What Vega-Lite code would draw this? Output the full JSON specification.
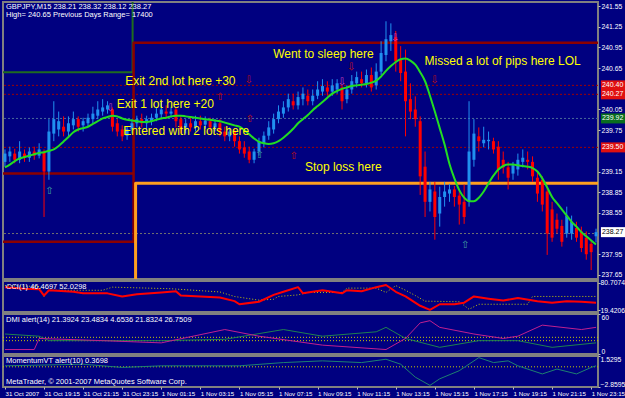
{
"$schema":"https://vega.github.io/schema/vega-lite/v6.json",
"background":"#000080",
"padding":{"left":0,"top":0,"right":0,"bottom":0},
"spacing":2,
"bounds":"flush",
"config":{
 "view":{"stroke":"#808080","strokeWidth":2},
 "axis":{"labelFont":"Liberation Sans","labelFontSize":6.8,"labelColor":"#FFFFFF","tickColor":"#C0C0C0","tickSize":2,"domain":false,"grid":false,"title":null,"labelPadding":1,"labelOverlap":false,"labelBound":false},
 "text":{"font":"Liberation Sans","fontSize":7.5,"color":"#FFFFFF","align":"left","baseline":"top"},
 "line":{"clip":true,"strokeJoin":"round"}
},
"datasets":{
 "one":[{}],
 "candles":[
{"i":0,"o":239.29,"h":239.47,"l":239.22,"c":239.41,"ma":239.21},
{"i":1,"o":239.37,"h":239.51,"l":239.29,"c":239.44,"ma":239.25},
{"i":2,"o":239.41,"h":239.48,"l":239.27,"c":239.32,"ma":239.30},
{"i":3,"o":239.32,"h":239.59,"l":239.27,"c":239.44,"ma":239.34},
{"i":4,"o":239.41,"h":239.47,"l":239.29,"c":239.35,"ma":239.36},
{"i":5,"o":239.35,"h":239.50,"l":239.29,"c":239.44,"ma":239.38},
{"i":6,"o":239.44,"h":239.51,"l":239.32,"c":239.38,"ma":239.40},
{"i":7,"o":239.38,"h":239.56,"l":239.34,"c":239.47,"ma":239.42},
{"i":8,"o":239.44,"h":239.47,"l":238.49,"c":239.15,"ma":239.43},
{"i":9,"o":239.15,"h":239.91,"l":239.03,"c":239.73,"ma":239.45},
{"i":10,"o":239.70,"h":240.17,"l":239.59,"c":239.91,"ma":239.47},
{"i":11,"o":239.76,"h":240.02,"l":239.66,"c":239.88,"ma":239.52},
{"i":12,"o":239.80,"h":239.95,"l":239.66,"c":239.73,"ma":239.585},
{"i":13,"o":239.73,"h":239.95,"l":239.66,"c":239.85,"ma":239.65},
{"i":14,"o":239.82,"h":240.02,"l":239.76,"c":239.91,"ma":239.72},
{"i":15,"o":239.91,"h":239.95,"l":239.73,"c":239.80,"ma":239.76},
{"i":16,"o":239.82,"h":239.93,"l":239.73,"c":239.88,"ma":239.78},
{"i":17,"o":239.85,"h":239.99,"l":239.80,"c":239.93,"ma":239.80},
{"i":18,"o":239.91,"h":240.09,"l":239.85,"c":239.99,"ma":239.84},
{"i":19,"o":239.96,"h":240.17,"l":239.91,"c":240.05,"ma":239.88},
{"i":20,"o":240.02,"h":240.20,"l":239.96,"c":240.08,"ma":239.92},
{"i":21,"o":240.05,"h":240.17,"l":239.99,"c":240.11,"ma":239.94},
{"i":22,"o":240.05,"h":240.08,"l":239.73,"c":239.80,"ma":239.96},
{"i":23,"o":239.85,"h":239.91,"l":239.66,"c":239.73,"ma":239.95},
{"i":24,"o":239.76,"h":239.82,"l":239.59,"c":239.66,"ma":239.92},
{"i":25,"o":239.67,"h":239.80,"l":239.61,"c":239.76,"ma":239.90},
{"i":26,"o":239.76,"h":239.91,"l":239.70,"c":239.85,"ma":239.89},
{"i":27,"o":239.85,"h":239.96,"l":239.79,"c":239.91,"ma":239.88},
{"i":28,"o":239.91,"h":239.99,"l":239.79,"c":239.85,"ma":239.87},
{"i":29,"o":239.85,"h":239.96,"l":239.76,"c":239.91,"ma":239.87},
{"i":30,"o":239.88,"h":239.99,"l":239.82,"c":239.93,"ma":239.88},
{"i":31,"o":239.93,"h":240.08,"l":239.88,"c":239.99,"ma":239.90},
{"i":32,"o":239.98,"h":240.17,"l":239.91,"c":240.05,"ma":239.92},
{"i":33,"o":240.02,"h":240.11,"l":239.93,"c":239.99,"ma":239.93},
{"i":34,"o":239.99,"h":240.09,"l":239.93,"c":240.02,"ma":239.95},
{"i":35,"o":240.05,"h":240.08,"l":239.79,"c":239.88,"ma":239.96},
{"i":36,"o":239.91,"h":239.96,"l":239.70,"c":239.76,"ma":239.96},
{"i":37,"o":239.79,"h":239.91,"l":239.70,"c":239.85,"ma":239.95},
{"i":38,"o":239.85,"h":239.93,"l":239.73,"c":239.79,"ma":239.94},
{"i":39,"o":239.79,"h":239.96,"l":239.73,"c":239.88,"ma":239.93},
{"i":40,"o":239.88,"h":239.96,"l":239.76,"c":239.82,"ma":239.92},
{"i":41,"o":239.83,"h":239.95,"l":239.77,"c":239.89,"ma":239.91},
{"i":42,"o":239.88,"h":239.93,"l":239.73,"c":239.79,"ma":239.90},
{"i":43,"o":239.79,"h":239.91,"l":239.73,"c":239.85,"ma":239.89},
{"i":44,"o":239.85,"h":239.91,"l":239.66,"c":239.73,"ma":239.88},
{"i":45,"o":239.73,"h":239.80,"l":239.59,"c":239.66,"ma":239.86},
{"i":46,"o":239.66,"h":239.79,"l":239.59,"c":239.73,"ma":239.84},
{"i":47,"o":239.73,"h":239.77,"l":239.51,"c":239.59,"ma":239.82},
{"i":48,"o":239.59,"h":239.66,"l":239.41,"c":239.47,"ma":239.80},
{"i":49,"o":239.50,"h":239.59,"l":239.35,"c":239.41,"ma":239.75},
{"i":50,"o":239.44,"h":239.51,"l":239.27,"c":239.32,"ma":239.69},
{"i":51,"o":239.32,"h":239.48,"l":239.27,"c":239.44,"ma":239.63},
{"i":52,"o":239.44,"h":239.64,"l":239.38,"c":239.59,"ma":239.58},
{"i":53,"o":239.56,"h":239.73,"l":239.50,"c":239.67,"ma":239.56},
{"i":54,"o":239.67,"h":239.88,"l":239.61,"c":239.79,"ma":239.55},
{"i":55,"o":239.76,"h":239.99,"l":239.70,"c":239.91,"ma":239.56},
{"i":56,"o":239.91,"h":240.11,"l":239.85,"c":240.02,"ma":239.59},
{"i":57,"o":239.99,"h":240.17,"l":239.93,"c":240.08,"ma":239.64},
{"i":58,"o":240.08,"h":240.28,"l":240.02,"c":240.20,"ma":239.70},
{"i":59,"o":240.17,"h":240.28,"l":240.05,"c":240.11,"ma":239.77},
{"i":60,"o":240.11,"h":240.31,"l":240.05,"c":240.23,"ma":239.85},
{"i":61,"o":240.20,"h":240.37,"l":240.11,"c":240.28,"ma":239.91},
{"i":62,"o":240.25,"h":240.34,"l":240.11,"c":240.17,"ma":239.97},
{"i":63,"o":240.17,"h":240.34,"l":240.11,"c":240.25,"ma":240.04},
{"i":64,"o":240.25,"h":240.46,"l":240.20,"c":240.34,"ma":240.10},
{"i":65,"o":240.31,"h":240.49,"l":240.25,"c":240.39,"ma":240.16},
{"i":66,"o":240.37,"h":240.46,"l":240.25,"c":240.31,"ma":240.22},
{"i":67,"o":240.31,"h":240.49,"l":240.25,"c":240.40,"ma":240.28},
{"i":68,"o":240.34,"h":240.49,"l":240.28,"c":240.43,"ma":240.32},
{"i":69,"o":240.37,"h":240.40,"l":240.05,"c":240.17,"ma":240.35},
{"i":70,"o":240.20,"h":240.40,"l":240.14,"c":240.34,"ma":240.37},
{"i":71,"o":240.34,"h":240.55,"l":240.28,"c":240.46,"ma":240.39},
{"i":72,"o":240.43,"h":240.60,"l":240.37,"c":240.52,"ma":240.40},
{"i":73,"o":240.49,"h":240.60,"l":240.37,"c":240.43,"ma":240.41},
{"i":74,"o":240.43,"h":240.63,"l":240.37,"c":240.55,"ma":240.42},
{"i":75,"o":240.55,"h":240.66,"l":240.31,"c":240.37,"ma":240.44},
{"i":76,"o":240.40,"h":240.72,"l":240.34,"c":240.60,"ma":240.47},
{"i":77,"o":240.60,"h":241.04,"l":240.55,"c":240.87,"ma":240.53},
{"i":78,"o":240.84,"h":241.33,"l":240.75,"c":241.07,"ma":240.61},
{"i":79,"o":241.04,"h":241.30,"l":240.90,"c":241.13,"ma":240.68},
{"i":80,"o":241.10,"h":241.19,"l":240.60,"c":240.75,"ma":240.74},
{"i":81,"o":240.78,"h":240.97,"l":240.46,"c":240.58,"ma":240.78},
{"i":82,"o":240.60,"h":240.92,"l":239.66,"c":240.17,"ma":240.79},
{"i":83,"o":240.20,"h":240.43,"l":239.91,"c":240.02,"ma":240.76},
{"i":84,"o":240.05,"h":240.24,"l":239.80,"c":239.91,"ma":240.70},
{"i":85,"o":239.88,"h":239.95,"l":238.81,"c":239.08,"ma":240.59},
{"i":86,"o":239.22,"h":239.44,"l":238.49,"c":238.71,"ma":240.46},
{"i":87,"o":238.71,"h":239.00,"l":238.57,"c":238.89,"ma":240.25},
{"i":88,"o":238.86,"h":239.00,"l":238.16,"c":238.49,"ma":240.02},
{"i":89,"o":238.54,"h":238.93,"l":238.35,"c":238.78,"ma":239.78},
{"i":90,"o":238.78,"h":239.00,"l":238.64,"c":238.86,"ma":239.54},
{"i":91,"o":238.83,"h":238.97,"l":238.71,"c":238.89,"ma":239.26},
{"i":92,"o":238.89,"h":238.94,"l":238.64,"c":238.78,"ma":239.05},
{"i":93,"o":238.80,"h":238.89,"l":238.38,"c":238.67,"ma":238.88},
{"i":94,"o":238.71,"h":238.96,"l":238.39,"c":238.49,"ma":238.77},
{"i":95,"o":238.71,"h":240.17,"l":238.64,"c":239.44,"ma":238.72},
{"i":96,"o":239.32,"h":239.91,"l":239.22,"c":239.70,"ma":238.72},
{"i":97,"o":239.66,"h":239.79,"l":239.44,"c":239.59,"ma":238.77},
{"i":98,"o":239.56,"h":239.80,"l":239.50,"c":239.61,"ma":238.86},
{"i":99,"o":239.59,"h":239.73,"l":239.47,"c":239.61,"ma":238.98},
{"i":100,"o":239.59,"h":239.64,"l":239.41,"c":239.47,"ma":239.09},
{"i":101,"o":239.51,"h":239.59,"l":239.03,"c":239.18,"ma":239.18},
{"i":102,"o":239.32,"h":239.44,"l":239.12,"c":239.21,"ma":239.23},
{"i":103,"o":239.21,"h":239.29,"l":238.89,"c":239.06,"ma":239.25},
{"i":104,"o":239.12,"h":239.29,"l":239.03,"c":239.24,"ma":239.25},
{"i":105,"o":239.18,"h":239.41,"l":239.09,"c":239.32,"ma":239.24},
{"i":106,"o":239.29,"h":239.47,"l":239.21,"c":239.35,"ma":239.23},
{"i":107,"o":239.32,"h":239.44,"l":239.18,"c":239.29,"ma":239.22},
{"i":108,"o":239.29,"h":239.37,"l":239.00,"c":239.08,"ma":239.20},
{"i":109,"o":239.06,"h":239.15,"l":238.71,"c":238.83,"ma":239.15},
{"i":110,"o":239.03,"h":239.08,"l":238.57,"c":238.67,"ma":239.05},
{"i":111,"o":238.86,"h":238.92,"l":237.94,"c":238.25,"ma":238.92},
{"i":112,"o":238.60,"h":238.71,"l":238.13,"c":238.19,"ma":238.78},
{"i":113,"o":238.45,"h":238.54,"l":238.25,"c":238.32,"ma":238.69},
{"i":114,"o":238.36,"h":238.45,"l":238.06,"c":238.13,"ma":238.60},
{"i":115,"o":238.25,"h":238.64,"l":238.19,"c":238.51,"ma":238.51},
{"i":116,"o":238.25,"h":238.51,"l":238.16,"c":238.42,"ma":238.42},
{"i":117,"o":238.33,"h":238.42,"l":238.13,"c":238.19,"ma":238.35},
{"i":118,"o":238.28,"h":238.35,"l":237.98,"c":238.04,"ma":238.27},
{"i":119,"o":238.19,"h":238.28,"l":237.87,"c":237.95,"ma":238.21},
{"i":120,"o":238.10,"h":238.16,"l":237.72,"c":237.98,"ma":238.15},
{"i":121,"o":238.21,"h":238.32,"l":238.12,"c":238.27,"ma":238.09}
 ],
 "levels":[
  {"p":240.40,"k":"r"},{"p":240.27,"k":"r"},{"p":239.92,"k":"s"},{"p":239.50,"k":"r"},{"p":238.25,"k":"b"}
 ],
 "steps":[
  {"s":"g","k":"g","o":1,"i":-0.4,"p":240.59},{"s":"g","k":"g","o":2,"i":26.13,"p":240.59},{"s":"g","k":"g","o":3,"i":26.13,"p":241.61},
  {"s":"r1","k":"r","o":1,"i":-0.4,"p":239.12},{"s":"r1","k":"r","o":2,"i":26.33,"p":239.12},{"s":"r1","k":"r","o":3,"i":26.33,"p":241.02},{"s":"r1","k":"r","o":4,"i":121.4,"p":241.02},
  {"s":"r2","k":"r","o":1,"i":-0.4,"p":238.13},{"s":"r2","k":"r","o":2,"i":26.33,"p":238.13},{"s":"r2","k":"r","o":3,"i":26.33,"p":239.12},
  {"s":"y","k":"y","o":1,"i":26.74,"p":237.59},{"s":"y","k":"y","o":2,"i":26.74,"p":238.98},{"s":"y","k":"y","o":3,"i":121.4,"p":238.98}
 ],
 "arrows":[
  {"i":9.1,"p":238.86,"g":"⇧","k":"t"},{"i":52.1,"p":239.39,"g":"⇧","k":"t"},{"i":94.2,"p":238.08,"g":"⇧","k":"t"},
  {"i":21.6,"p":240.07,"g":"⇩","k":"m"},{"i":69,"p":240.45,"g":"⇩","k":"m"},{"i":79.9,"p":241.09,"g":"⇩","k":"m"},
  {"i":49.9,"p":240.48,"g":"⇩","k":"r"},{"i":70.9,"p":240.66,"g":"⇩","k":"r"},{"i":87.9,"p":240.48,"g":"⇩","k":"r"},
  {"i":44,"p":240.23,"g":"⇧","k":"r"},{"i":50.1,"p":239.91,"g":"⇧","k":"r"},{"i":59.1,"p":239.37,"g":"⇧","k":"r"}
 ],
 "notes":[
  {"i":54.9,"p":240.86,"t":"Went to sleep here"},
  {"i":24.6,"p":240.46,"t":"Exit 2nd lot here +30"},
  {"i":85.9,"p":240.76,"t":"Missed a lot of pips here LOL"},
  {"i":22.9,"p":240.13,"t":"Exit 1 lot here +20"},
  {"i":24.2,"p":239.74,"t":"Entered with 2 lots here"},
  {"i":61.4,"p":239.21,"t":"Stop loss here"}
 ],
 "tags":[
  {"p":240.40,"t":"240.40","k":"r"},{"p":240.27,"t":"240.27","k":"r"},{"p":239.92,"t":"239.92","k":"g"},{"p":239.50,"t":"239.50","k":"r"},{"p":238.27,"t":"238.27","k":"w"}
 ],
 "ind":[
  {"s":"cci","i":0,"v":70.5},{"s":"cci","i":4,"v":67.1},{"s":"cci","i":7,"v":66},{"s":"cci","i":8,"v":52.1},{"s":"cci","i":9,"v":63.7},{"s":"cci","i":14,"v":60.3},{"s":"cci","i":16,"v":56.9},{"s":"cci","i":21,"v":56.9},{"s":"cci","i":24,"v":50.1},{"s":"cci","i":27,"v":54.8},{"s":"cci","i":32,"v":58.9},{"s":"cci","i":35,"v":61.6},{"s":"cci","i":36,"v":52.1},{"s":"cci","i":40,"v":50.1},{"s":"cci","i":44,"v":48.0},{"s":"cci","i":47,"v":39.8},{"s":"cci","i":48,"v":33.0},{"s":"cci","i":52,"v":38.5},{"s":"cci","i":55,"v":53.5},{"s":"cci","i":57,"v":60.3},{"s":"cci","i":60,"v":70.5},{"s":"cci","i":61,"v":56.9},{"s":"cci","i":65,"v":63.7},{"s":"cci","i":69,"v":56.9},{"s":"cci","i":70,"v":63.7},{"s":"cci","i":73,"v":61.6},{"s":"cci","i":76,"v":70.5},{"s":"cci","i":78,"v":75.3},{"s":"cci","i":80,"v":60.3},{"s":"cci","i":82,"v":50.1},{"s":"cci","i":85,"v":29.6},{"s":"cci","i":87,"v":20.8},{"s":"cci","i":89,"v":33.0},{"s":"cci","i":92,"v":33.0},{"s":"cci","i":94,"v":36.4},{"s":"cci","i":96,"v":50.1},{"s":"cci","i":99,"v":45.3},{"s":"cci","i":102,"v":41.2},{"s":"cci","i":105,"v":46.6},{"s":"cci","i":109,"v":39.8},{"s":"cci","i":112,"v":36.4},{"s":"cci","i":115,"v":39.8},{"s":"cci","i":118,"v":38.5},{"s":"cci","i":121,"v":36.4},
  {"s":"sig","i":0,"v":73.9},{"s":"sig","i":7,"v":72},{"s":"sig","i":8,"v":50.1},{"s":"sig","i":9,"v":63.7},{"s":"sig","i":20,"v":63.7},{"s":"sig","i":22,"v":70.5},{"s":"sig","i":34,"v":67},{"s":"sig","i":44,"v":60},{"s":"sig","i":47,"v":50},{"s":"sig","i":52,"v":42},{"s":"sig","i":55,"v":44},{"s":"sig","i":56,"v":50.1},{"s":"sig","i":60,"v":53.5},{"s":"sig","i":62,"v":58.9},{"s":"sig","i":69,"v":58.9},{"s":"sig","i":70,"v":68.4},{"s":"sig","i":76,"v":68.4},{"s":"sig","i":78,"v":58.9},{"s":"sig","i":80,"v":73.9},{"s":"sig","i":82,"v":63.7},{"s":"sig","i":84,"v":52.1},{"s":"sig","i":86,"v":39.8},{"s":"sig","i":93,"v":38.5},{"s":"sig","i":95,"v":22},{"s":"sig","i":97,"v":33.0},{"s":"sig","i":107,"v":33.0},{"s":"sig","i":108,"v":50.1},{"s":"sig","i":121,"v":50.1},
  {"s":"dp","i":0,"v":6.7},{"s":"dp","i":6,"v":6.7},{"s":"dp","i":7,"v":23.3},{"s":"dp","i":20,"v":20},{"s":"dp","i":32,"v":16.7},{"s":"dp","i":45,"v":36.7},{"s":"dp","i":52,"v":26.7},{"s":"dp","i":65,"v":13.3},{"s":"dp","i":78,"v":6.7},{"s":"dp","i":82,"v":23.3},{"s":"dp","i":85,"v":46.7},{"s":"dp","i":87,"v":50},{"s":"dp","i":89,"v":40},{"s":"dp","i":96,"v":30},{"s":"dp","i":102,"v":23.3},{"s":"dp","i":105,"v":26.7},{"s":"dp","i":110,"v":43.3},{"s":"dp","i":118,"v":36.7},{"s":"dp","i":121,"v":40},
  {"s":"dm","i":0,"v":30},{"s":"dm","i":7,"v":26.7},{"s":"dm","i":9,"v":20},{"s":"dm","i":32,"v":20},{"s":"dm","i":45,"v":22},{"s":"dm","i":57,"v":36.7},{"s":"dm","i":65,"v":26.7},{"s":"dm","i":76,"v":33.3},{"s":"dm","i":78,"v":40},{"s":"dm","i":82,"v":23.3},{"s":"dm","i":89,"v":10},{"s":"dm","i":97,"v":20},{"s":"dm","i":105,"v":20},{"s":"dm","i":112,"v":10},{"s":"dm","i":121,"v":16.7},
  {"s":"mom","i":0,"v":0.14},{"s":"mom","i":16,"v":0.37},{"s":"mom","i":24,"v":-0.09},{"s":"mom","i":32,"v":0.14},{"s":"mom","i":48,"v":0.14},{"s":"mom","i":57,"v":0.60},{"s":"mom","i":65,"v":0.84},{"s":"mom","i":73,"v":0.60},{"s":"mom","i":78,"v":1.07},{"s":"mom","i":81,"v":0.37},{"s":"mom","i":84,"v":-1.47},{"s":"mom","i":87,"v":-2.63},{"s":"mom","i":89,"v":-1.70},{"s":"mom","i":93,"v":-0.55},{"s":"mom","i":97,"v":1.30},{"s":"mom","i":100,"v":0.60},{"s":"mom","i":103,"v":0.84},{"s":"mom","i":105,"v":0.14},{"s":"mom","i":110,"v":-1.01},{"s":"mom","i":113,"v":-0.32},{"s":"mom","i":117,"v":-1.01},{"s":"mom","i":120,"v":-0.09},{"s":"mom","i":121,"v":0.14}
 ],
 "dmilev":[{"v":20},{"v":25}],
 "momlev":[{"v":0}]
},
"vconcat":[
 {
  "width":595,"height":277,
  "resolve":{"scale":{"color":"independent","strokeWidth":"independent"}},
  "layer":[
   {"data":{"name":"levels"},"mark":{"type":"rule","strokeDash":[2,2],"strokeWidth":1},
    "encoding":{"y":{"field":"p","type":"quantitative","scale":{"domain":[237.59,241.61],"nice":false,"zero":false},"axis":{"orient":"right","values":[241.55,241.25,240.95,240.65,240.05,239.75,239.15,238.85,238.55,237.95,237.65],"format":".2f","labelOverlap":false}},
     "color":{"field":"k","type":"nominal","scale":{"domain":["r","s","b"],"range":["#A00000","#4A6A9A","#707070"]},"legend":null}}},
   {"data":{"name":"steps"},"mark":{"type":"line"},
    "encoding":{"x":{"field":"i","type":"quantitative","scale":{"domain":[-0.4,121.4],"nice":false,"zero":false},"axis":null},
     "y":{"field":"p","type":"quantitative","axis":{"orient":"right","values":[241.55,241.25,240.95,240.65,240.05,239.75,239.15,238.85,238.55,237.95,237.65],"format":".2f","labelOverlap":false}},"detail":{"field":"s"},"order":{"field":"o"},
     "color":{"field":"k","type":"nominal","scale":{"domain":["g","r","y"],"range":["#1F6B1F","#8B0000","#FFA020"]},"legend":null},
     "strokeWidth":{"field":"k","type":"nominal","scale":{"domain":["g","r","y"],"range":[2,3,2]},"legend":null}}},
   {"data":{"name":"candles"},"mark":{"type":"rule","strokeWidth":1},
    "encoding":{"x":{"field":"i","type":"quantitative","scale":{"domain":[-0.4,121.4],"nice":false,"zero":false},"axis":null},
     "y":{"field":"l","type":"quantitative","axis":{"orient":"right","values":[241.55,241.25,240.95,240.65,240.05,239.75,239.15,238.85,238.55,237.95,237.65],"format":".2f","labelOverlap":false}},"y2":{"field":"h"},
     "color":{"condition":{"test":"datum.c >= datum.o","value":"#2090F0"},"value":"#FF0000"}}},
   {"data":{"name":"candles"},"mark":{"type":"rule","strokeWidth":3},
    "encoding":{"x":{"field":"i","type":"quantitative","scale":{"domain":[-0.4,121.4],"nice":false,"zero":false},"axis":null},
     "y":{"field":"o","type":"quantitative","axis":{"orient":"right","values":[241.55,241.25,240.95,240.65,240.05,239.75,239.15,238.85,238.55,237.95,237.65],"format":".2f","labelOverlap":false}},"y2":{"field":"c"},
     "color":{"condition":{"test":"datum.c >= datum.o","value":"#2090F0"},"value":"#FF0000"}}},
   {"data":{"name":"candles"},"mark":{"type":"line","color":"#22DD22","strokeWidth":2,"interpolate":"monotone"},
    "encoding":{"x":{"field":"i","type":"quantitative","scale":{"domain":[-0.4,121.4],"nice":false,"zero":false},"axis":null},
     "y":{"field":"ma","type":"quantitative","axis":{"orient":"right","values":[241.55,241.25,240.95,240.65,240.05,239.75,239.15,238.85,238.55,237.95,237.65],"format":".2f","labelOverlap":false}}}},
   {"data":{"name":"arrows"},"mark":{"type":"text","font":"DejaVu Sans","fontSize":10,"baseline":"middle","align":"center"},
    "encoding":{"x":{"field":"i","type":"quantitative","scale":{"domain":[-0.4,121.4],"nice":false,"zero":false},"axis":null},
     "y":{"field":"p","type":"quantitative","axis":{"orient":"right","values":[241.55,241.25,240.95,240.65,240.05,239.75,239.15,238.85,238.55,237.95,237.65],"format":".2f","labelOverlap":false}},"text":{"field":"g"},
     "color":{"field":"k","type":"nominal","scale":{"domain":["t","m","r"],"range":["#40A0A0","#D040C0","#C01010"]},"legend":null}}},
   {"data":{"name":"notes"},"mark":{"type":"text","font":"Liberation Sans","fontSize":12,"align":"left","baseline":"middle","color":"#FFFF00"},
    "encoding":{"x":{"field":"i","type":"quantitative","scale":{"domain":[-0.4,121.4],"nice":false,"zero":false},"axis":null},
     "y":{"field":"p","type":"quantitative","axis":{"orient":"right","values":[241.55,241.25,240.95,240.65,240.05,239.75,239.15,238.85,238.55,237.95,237.65],"format":".2f","labelOverlap":false}},"text":{"field":"t"}}},
   {"data":{"name":"tags"},"mark":{"type":"point","filled":true,"opacity":1,"shape":"M0,-0.4H2V0.4H0Z","size":625},
    "encoding":{"x":{"datum":122.0,"type":"quantitative","scale":{"domain":[-0.4,121.4],"nice":false,"zero":false},"axis":null},
     "y":{"field":"p","type":"quantitative","axis":{"orient":"right","values":[241.55,241.25,240.95,240.65,240.05,239.75,239.15,238.85,238.55,237.95,237.65],"format":".2f","labelOverlap":false}},
     "fill":{"field":"k","type":"nominal","scale":{"domain":["r","g","w"],"range":["#E01010","#0A6E1E","#FFFFFF"]},"legend":null}}},
   {"data":{"name":"tags"},"mark":{"type":"text","font":"Liberation Sans","fontSize":7,"align":"left","baseline":"middle","dx":1},
    "encoding":{"x":{"datum":122.0,"type":"quantitative","scale":{"domain":[-0.4,121.4],"nice":false,"zero":false},"axis":null},
     "y":{"field":"p","type":"quantitative","axis":{"orient":"right","values":[241.55,241.25,240.95,240.65,240.05,239.75,239.15,238.85,238.55,237.95,237.65],"format":".2f","labelOverlap":false}},"text":{"field":"t"},
     "color":{"condition":{"test":"datum.k == 'w'","value":"#000000"},"value":"#FFFFFF"}}},
   {"data":{"name":"one"},"mark":{"type":"text","lineBreak":"\n","lineHeight":8,"dx":3,"dy":1},
    "encoding":{"x":{"datum":-0.4,"type":"quantitative","scale":{"domain":[-0.4,121.4],"nice":false,"zero":false},"axis":null},
     "y":{"datum":241.61,"type":"quantitative","axis":{"orient":"right","values":[241.55,241.25,240.95,240.65,240.05,239.75,239.15,238.85,238.55,237.95,237.65],"format":".2f","labelOverlap":false}},
     "text":{"value":"GBPJPY,M15  238.21 238.32 238.12 238.27\nHigh= 240.65    Previous Days Range= 17400"}}}
  ]
 },
 {
  "width":595,"height":31,
  "layer":[
   {"data":{"name":"ind"},"transform":[{"filter":"datum.s == 'sig'"}],"mark":{"type":"line","color":"#C8C800","strokeWidth":1,"strokeDash":[1,2]},
    "encoding":{"x":{"field":"i","type":"quantitative","scale":{"domain":[-0.4,121.4],"nice":false,"zero":false},"axis":null},
     "y":{"field":"v","type":"quantitative","scale":{"domain":[16,84],"nice":false,"zero":false},"axis":{"orient":"right","values":[19.4206,80.7074],"format":".4f","labelPadding":0}}}},
   {"data":{"name":"ind"},"transform":[{"filter":"datum.s == 'cci'"}],"mark":{"type":"line","color":"#FF0000","strokeWidth":2},
    "encoding":{"x":{"field":"i","type":"quantitative","scale":{"domain":[-0.4,121.4],"nice":false,"zero":false},"axis":null},
     "y":{"field":"v","type":"quantitative"}}},
   {"data":{"name":"one"},"mark":{"type":"text","dx":3,"dy":2},
    "encoding":{"x":{"datum":-0.4,"type":"quantitative","scale":{"domain":[-0.4,121.4],"nice":false,"zero":false},"axis":null},
     "y":{"datum":84,"type":"quantitative"},"text":{"value":"CCI(1) 46.4697 52.0298"}}}
  ]
 },
 {
  "width":595,"height":40,
  "layer":[
   {"data":{"name":"dmilev"},"mark":{"type":"rule","color":"#C8C800","strokeDash":[1,2]},
    "encoding":{"y":{"field":"v","type":"quantitative","scale":{"domain":[0,60],"nice":false},"axis":{"orient":"right","values":[0,20,25,60],"labelFlush":true}}}},
   {"data":{"name":"ind"},"transform":[{"filter":"datum.s == 'dm'"}],"mark":{"type":"line","color":"#1E8050","strokeWidth":1},
    "encoding":{"x":{"field":"i","type":"quantitative","scale":{"domain":[-0.4,121.4],"nice":false,"zero":false},"axis":null},
     "y":{"field":"v","type":"quantitative"}}},
   {"data":{"name":"ind"},"transform":[{"filter":"datum.s == 'dp'"}],"mark":{"type":"line","color":"#C0208F","strokeWidth":1},
    "encoding":{"x":{"field":"i","type":"quantitative","scale":{"domain":[-0.4,121.4],"nice":false,"zero":false},"axis":null},
     "y":{"field":"v","type":"quantitative"}}},
   {"data":{"name":"one"},"mark":{"type":"text","dx":3,"dy":2},
    "encoding":{"x":{"datum":-0.4,"type":"quantitative","scale":{"domain":[-0.4,121.4],"nice":false,"zero":false},"axis":null},
     "y":{"datum":60,"type":"quantitative"},"text":{"value":"DMI alert(14) 21.3924 23.4834 4.6536 21.8324 26.7509"}}}
  ]
 },
 {
  "width":595,"height":31,
  "layer":[
   {"data":{"name":"momlev"},"mark":{"type":"rule","color":"#C8C800","strokeDash":[1,2]},
    "encoding":{"y":{"field":"v","type":"quantitative","scale":{"domain":[-2.8595,1.5295],"nice":false,"zero":false},"axis":{"orient":"right","values":[-2.8595,0,1.5295],"labelExpr":"datum.value == 0 ? '0.00' : format(datum.value, '.4f')","labelFlush":true,"labelPadding":0}}}},
   {"data":{"name":"ind"},"transform":[{"filter":"datum.s == 'mom'"}],"mark":{"type":"line","color":"#1E8070","strokeWidth":1},
    "encoding":{"x":{"field":"i","type":"quantitative","scale":{"domain":[-0.4,121.4],"nice":false,"zero":false},
      "axis":{"orient":"bottom","values":[0,8,16,24,32,40,48,56,64,72,80,88,96,104,112,120],"labelAlign":"left","labelPadding":1,"tickSize":2,"labelFlush":false,"labelOverlap":false,"labelFontSize":6.2,
       "labelExpr":"['31 Oct 2007','31 Oct 19:15','31 Oct 21:15','31 Oct 23:15','1 Nov 01:15','1 Nov 03:15','1 Nov 05:15','1 Nov 07:15','1 Nov 09:15','1 Nov 11:15','1 Nov 13:15','1 Nov 15:15','1 Nov 17:15','1 Nov 19:15','1 Nov 21:15','1 Nov 23:15'][round(datum.value/8)]"}},
     "y":{"field":"v","type":"quantitative"}}},
   {"data":{"name":"one"},"mark":{"type":"text","lineBreak":"\n","lineHeight":21,"dx":3,"dy":1},
    "encoding":{"x":{"datum":-0.4,"type":"quantitative","axis":{"orient":"bottom","values":[0,8,16,24,32,40,48,56,64,72,80,88,96,104,112,120],"labelAlign":"left","labelPadding":1,"tickSize":2,"labelFlush":false,"labelOverlap":false,"labelFontSize":6.2,
       "labelExpr":"['31 Oct 2007','31 Oct 19:15','31 Oct 21:15','31 Oct 23:15','1 Nov 01:15','1 Nov 03:15','1 Nov 05:15','1 Nov 07:15','1 Nov 09:15','1 Nov 11:15','1 Nov 13:15','1 Nov 15:15','1 Nov 17:15','1 Nov 19:15','1 Nov 21:15','1 Nov 23:15'][round(datum.value/8)]"}},
     "y":{"datum":1.5295,"type":"quantitative"},"text":{"value":"MomentumVT alert(10) 0.3698\nMetaTrader, © 2001-2007 MetaQuotes Software Corp."}}}
  ]
 }
]
}
